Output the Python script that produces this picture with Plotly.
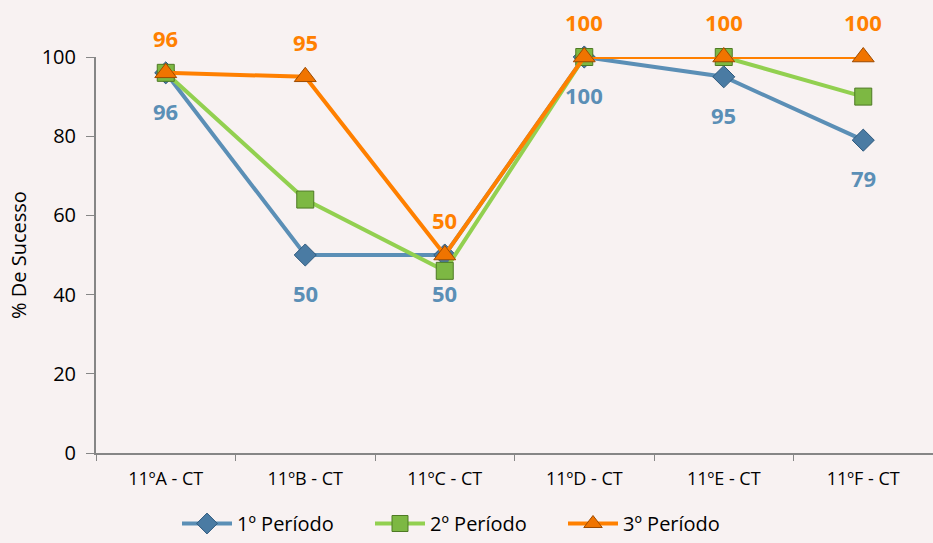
import plotly.graph_objects as go

categories = ["11ºA - CT", "11ºB - CT", "11ºC - CT", "11ºD - CT", "11ºE - CT", "11ºF - CT"]
p1 = [96, 50, 50, 100, 95, 79]
p2 = [96, 64, 46, 100, 100, 90]
p3 = [96, 95, 50, 100, 100, 100]
series_names = ["1º Período", "2º Período", "3º Período"]
y_ticks = [0, 20, 40, 60, 80, 100]

FONT = "Open Sans"
BG = "#F8F2F2"
BLUE = "#5B8FB6"
GREEN = "#92D050"
ORANGE = "#FF8000"

fig = go.Figure()
fig.add_trace(go.Scatter(x=categories, y=p1, name=series_names[0], mode="lines+markers",
                         line=dict(color=BLUE, width=4),
                         marker=dict(symbol="diamond", size=17, color="#4A7BA3",
                                     line=dict(color="#2F5A7E", width=1)),
                         cliponaxis=False))
fig.add_trace(go.Scatter(x=categories, y=p2, name=series_names[1], mode="lines+markers",
                         line=dict(color=GREEN, width=4),
                         marker=dict(symbol="square", size=17, color="#7DB843",
                                     line=dict(color="#4E7A24", width=1)),
                         cliponaxis=False))
fig.add_trace(go.Scatter(x=categories, y=p3, name=series_names[2], mode="lines+markers",
                         line=dict(color=ORANGE, width=4),
                         marker=dict(symbol="triangle-up", size=19, color="#F07400",
                                     line=dict(color="#9C4A00", width=1)),
                         cliponaxis=False))

annotations = []
for c, v in zip(categories, p3):
    annotations.append(dict(x=c, y=v, xref="x", yref="y", text=str(v), showarrow=False,
                            yshift=35, font=dict(family=FONT, size=22, color=ORANGE, weight="bold")))
for c, v in zip(categories, p1):
    annotations.append(dict(x=c, y=v, xref="x", yref="y", text=str(v), showarrow=False,
                            yshift=-38, font=dict(family=FONT, size=22, color=BLUE, weight="bold")))

fig.update_layout(
    width=933, height=543,
    paper_bgcolor=BG, plot_bgcolor=BG,
    margin=dict(l=96, r=0, t=57, b=90),
    font=dict(family=FONT, color="#000000"),
    annotations=annotations,
    showlegend=True,
    legend=dict(orientation="h", x=0.5, xanchor="center", xref="container",
                y=-0.045, yanchor="bottom", yref="container",
                font=dict(family=FONT, size=20), bgcolor="rgba(0,0,0,0)",
                itemwidth=50, entrywidth=128),
)
fig.update_xaxes(type="category", range=[-0.5, 5.5], tickson="boundaries",
                 ticks="outside", ticklen=6, tickcolor="#868686",
                 showline=True, linecolor="#868686", linewidth=2,
                 showgrid=False, zeroline=False, ticklabelstandoff=8,
                 tickfont=dict(family=FONT, size=18, color="#000000"))
fig.update_yaxes(range=[0, 100], tickvals=y_ticks, ticks="outside", ticklen=8,
                 tickcolor="#868686", showline=True, linecolor="#868686", linewidth=2,
                 showgrid=False, zeroline=False, ticklabelstandoff=6,
                 tickfont=dict(family=FONT, size=20, color="#000000"),
                 title=dict(text="% De Sucesso", font=dict(family=FONT, size=20), standoff=10))

fig.write_html("out.html", config={"displayModeBar": False},
               post_script="document.body.style.margin='0';document.body.style.background='%s';" % BG)
